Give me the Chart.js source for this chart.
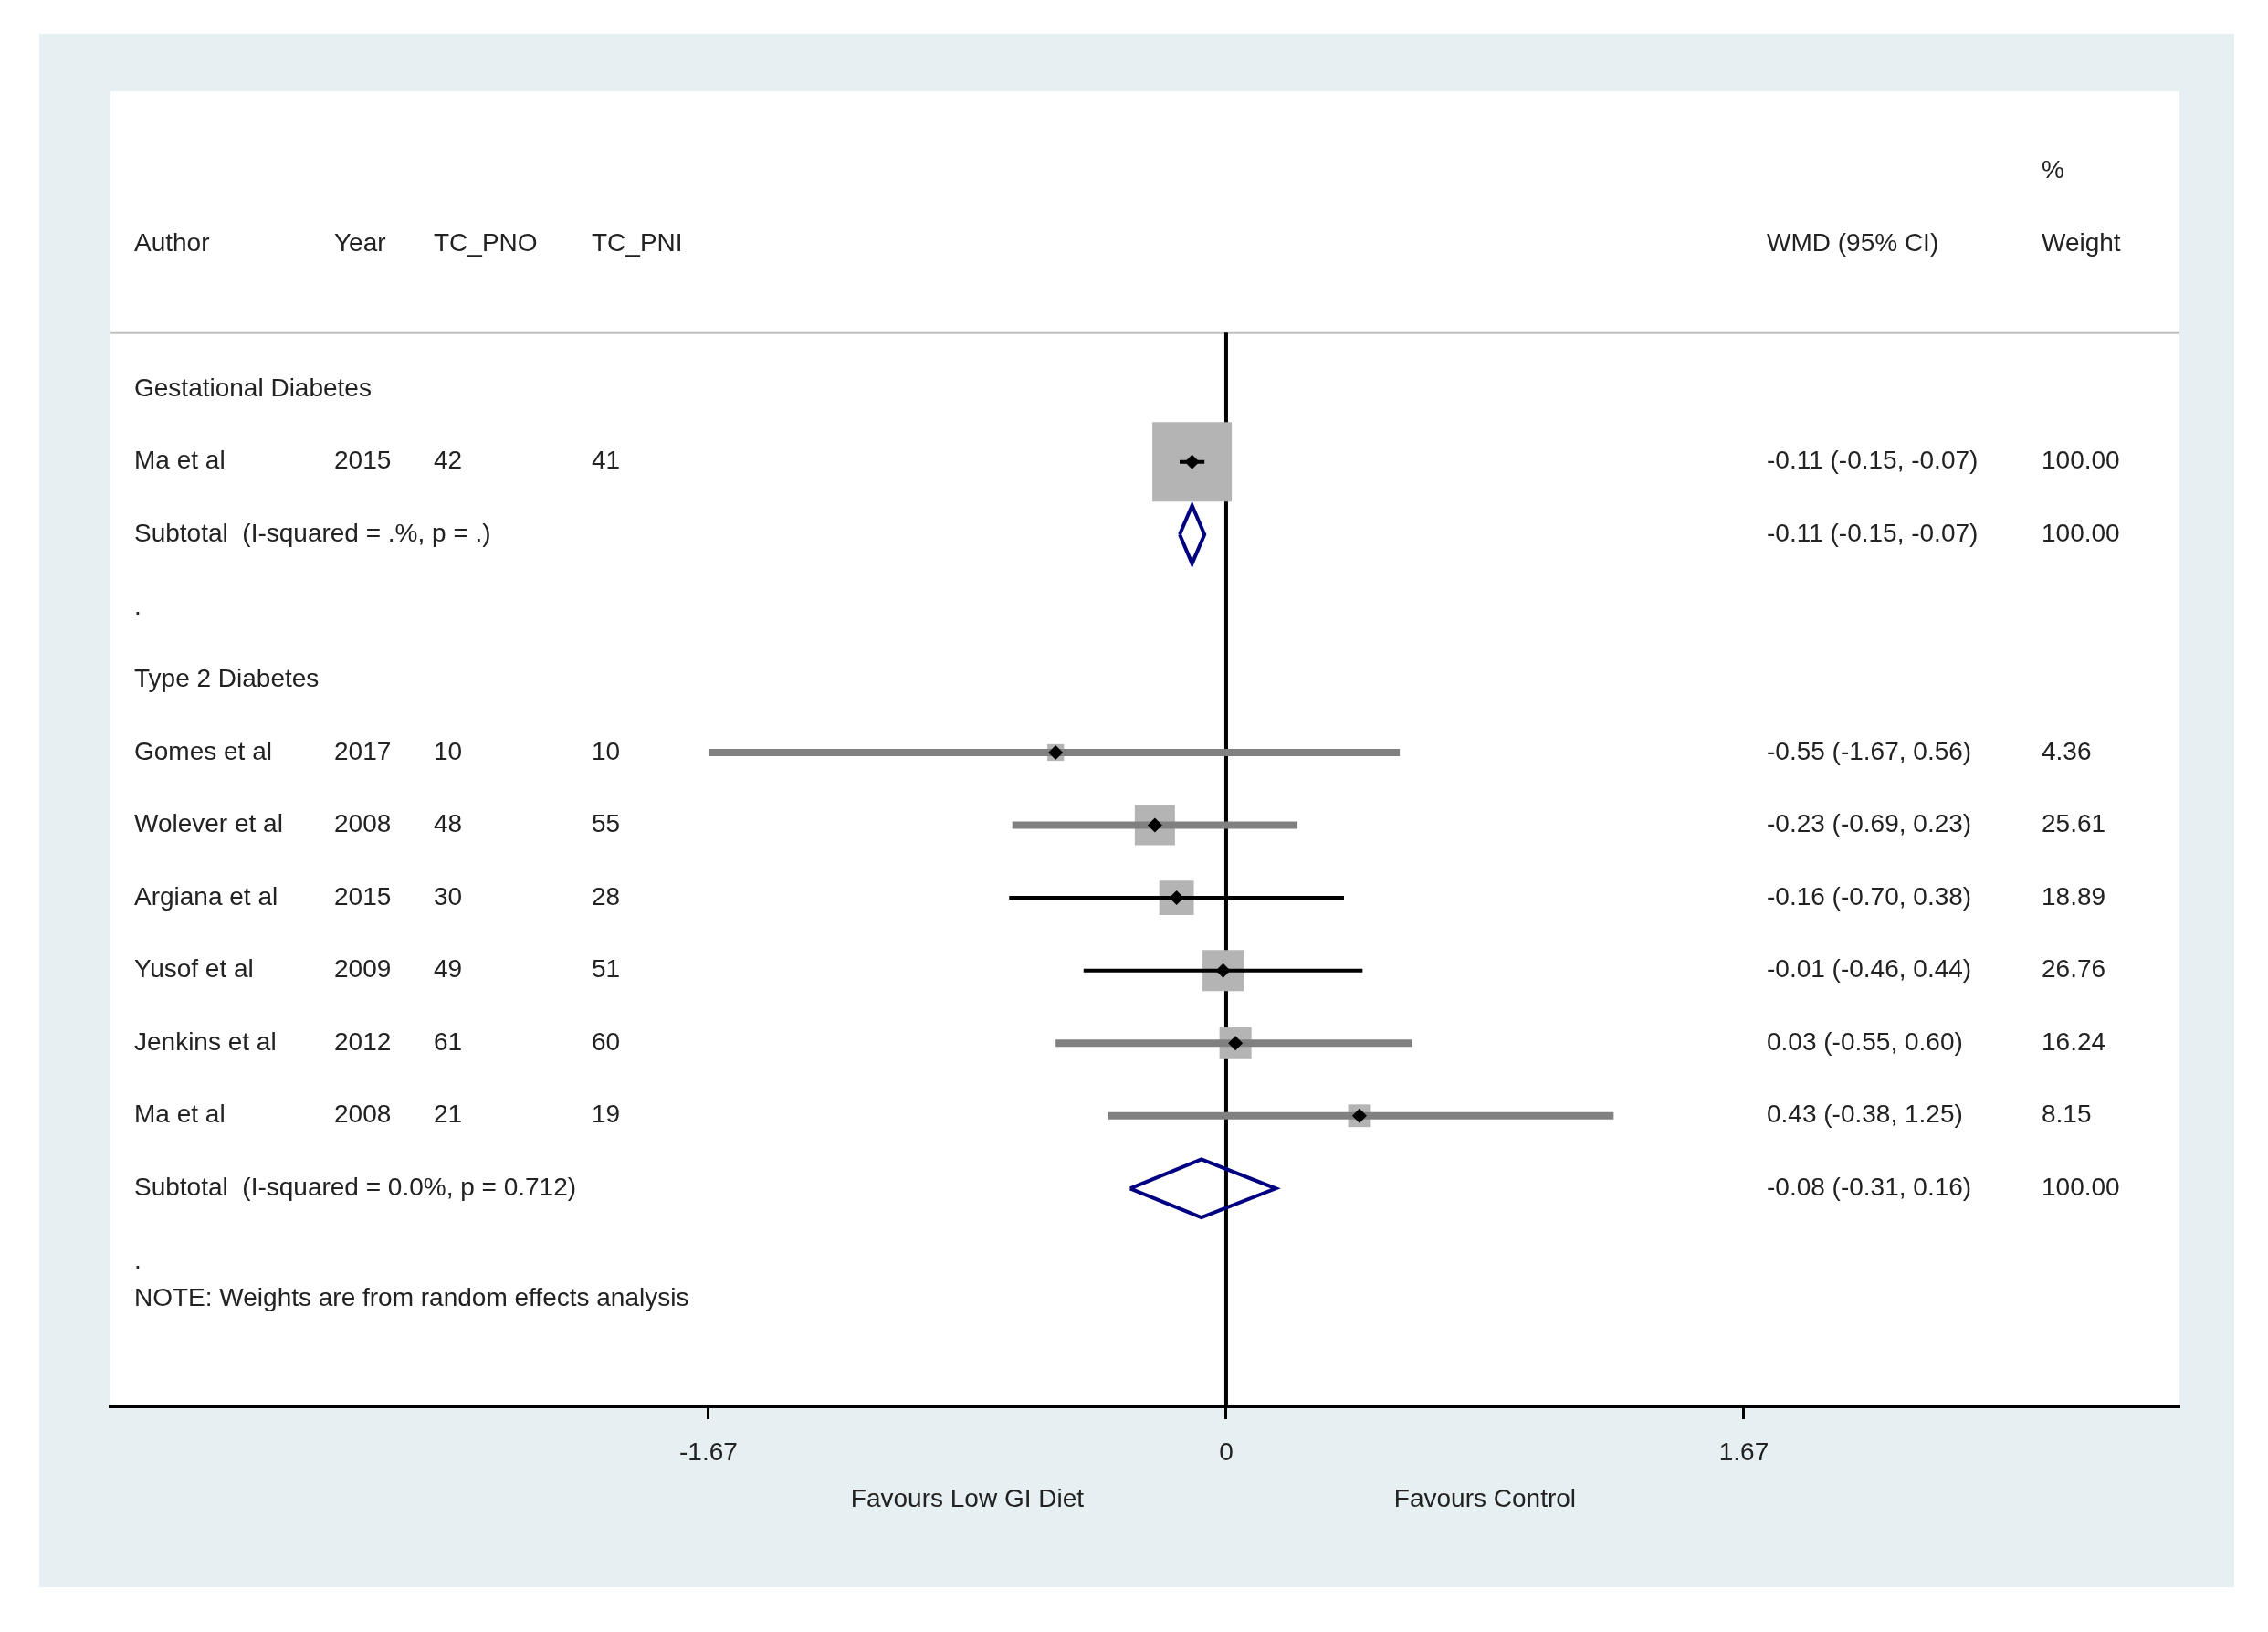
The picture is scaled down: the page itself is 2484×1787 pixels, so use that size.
<!DOCTYPE html>
<html>
<head>
<meta charset="utf-8">
<script src="https://cdn.jsdelivr.net/npm/chart.js@4"></script>
<style>
  html, body { margin: 0; padding: 0; background: #fff; }
  canvas { display: block; }
</style>
</head>
<body>
<canvas id="forest" width="2484" height="1787"></canvas>
<script>
// groups and studies
const groups = ['Gestational Diabetes', 'Type 2 Diabetes']
const studies = ['Ma et al', 'Gomes et al', 'Wolever et al', 'Argiana et al', 'Yusof et al', 'Jenkins et al', 'Ma et al']
const studyGroup = [0, 1, 1, 1, 1, 1, 1]
const years = [2015, 2017, 2008, 2015, 2009, 2012, 2008]
const nPNO = [42, 10, 48, 30, 49, 61, 21]
const nPNI = [41, 10, 55, 28, 51, 60, 19]
const es = [-0.11, -0.55, -0.23, -0.16, -0.01, 0.03, 0.43]
const lo = [-0.15, -1.67, -0.69, -0.70, -0.46, -0.55, -0.38]
const hi = [-0.07, 0.56, 0.23, 0.38, 0.44, 0.60, 1.25]
const weights = [100.00, 4.36, 25.61, 18.89, 26.76, 16.24, 8.15]

// subgroup pooled results
const subEs = [-0.11, -0.08]
const subLo = [-0.15, -0.31]
const subHi = [-0.07, 0.16]
const subHet = ['I-squared = .%, p = .', 'I-squared = 0.0%, p = 0.712']
const subWeight = [100.00, 100.00]

// axis
const tickVals = [-1.67, 0, 1.67]
const tickLabels = ['-1.67', '0', '1.67']
const sideLabels = ['Favours Low GI Diet', 'Favours Control']

const headers = ['Author', 'Year', 'TC_PNO', 'TC_PNI']
const note = 'NOTE: Weights are from random effects analysis'

// styling (kept apart from the data)
const ciColor = ['#000000', '#808080', '#808080', '#000000', '#000000', '#808080', '#808080']
const ciWidth = [4, 8, 8, 4, 4, 8, 8]
const FONT = '28px "Liberation Sans", Arial, sans-serif'
const TEXT = '#222222'
const X_MIN = -3.599
const X_MAX = 3.075
const SEP_ROW = 0.22
const AXIS_ROW = 15
const cols = { author: 147, year: 366, pno: 475, pni: 648, wmd: 1935, weight: 2236 }

// lay out the rows: group title, studies, subtotal, blank
const rows = []
let r = 1
groups.forEach((g, gi) => {
  rows.push({ row: r++, kind: 'group', label: g })
  studies.forEach((s, i) => {
    if (studyGroup[i] === gi) rows.push({ row: r++, kind: 'study', i })
  })
  rows.push({ row: r++, kind: 'sub', gi })
  rows.push({ row: r++, kind: 'dot' })
})
const studyRow = studies.map((s, i) => rows.find(x => x.kind === 'study' && x.i === i).row)
const subRow = groups.map((g, gi) => rows.find(x => x.kind === 'sub' && x.gi === gi).row)

const fmt = v => v.toFixed(2)
const wmdText = (e, l, h) => `${fmt(e)} (${fmt(l)}, ${fmt(h)})`

const datasets = []

// line at zero
datasets.push({
  data: [{ x: 0, y: SEP_ROW }, { x: 0, y: AXIS_ROW }],
  showLine: true, borderColor: '#000', borderWidth: 4, pointRadius: 0, order: 9
})
// header separator
datasets.push({
  data: [{ x: X_MIN, y: SEP_ROW }, { x: X_MAX, y: SEP_ROW }],
  showLine: true, borderColor: '#c0c0c0', borderWidth: 3, pointRadius: 0, order: 9
})
// weight boxes
datasets.push({
  data: es.map((v, i) => ({ x: v, y: studyRow[i] })),
  pointStyle: 'rect',
  pointRadius: weights.map(w => 87 * Math.sqrt(w / 100) / Math.SQRT2),
  backgroundColor: '#b4b4b4', borderWidth: 0, order: 8
})
// confidence intervals
es.forEach((v, i) => {
  datasets.push({
    data: [{ x: lo[i], y: studyRow[i] }, { x: hi[i], y: studyRow[i] }],
    showLine: true, borderColor: ciColor[i], borderWidth: ciWidth[i], pointRadius: 0, order: 7
  })
})
// point estimates
datasets.push({
  data: es.map((v, i) => ({ x: v, y: studyRow[i] })),
  pointStyle: 'rectRot', pointRadius: 8, backgroundColor: '#000', borderWidth: 0, order: 6
})
// pooled diamonds
subEs.forEach((v, gi) => {
  const y = subRow[gi]
  const h = 0.4
  datasets.push({
    data: [
      { x: subLo[gi], y }, { x: v, y: y - h }, { x: subHi[gi], y },
      { x: v, y: y + h }, { x: subLo[gi], y }
    ],
    showLine: true, borderColor: '#000080', borderWidth: 4, pointRadius: 0, fill: false, order: 5
  })
})

const backdrop = {
  id: 'backdrop',
  beforeDraw(chart) {
    const { ctx, chartArea: a } = chart
    ctx.save()
    ctx.fillStyle = '#ffffff'
    ctx.fillRect(0, 0, chart.width, chart.height)
    ctx.fillStyle = '#e6f0f2'
    ctx.fillRect(43, 37, 2447 - 43, 1738 - 37)
    ctx.fillStyle = '#ffffff'
    ctx.fillRect(a.left, a.top, a.right - a.left, a.bottom - a.top)
    ctx.restore()
  }
}

const texts = {
  id: 'texts',
  afterDraw(chart) {
    const { ctx } = chart
    const ys = chart.scales.y
    const xs = chart.scales.x
    const at = row => ys.getPixelForValue(row)
    ctx.save()
    ctx.font = FONT
    ctx.fillStyle = TEXT
    ctx.textBaseline = 'middle'
    ctx.textAlign = 'left'

    // headers
    ctx.fillText(headers[0], cols.author, at(-1))
    ctx.fillText(headers[1], cols.year, at(-1))
    ctx.fillText(headers[2], cols.pno, at(-1))
    ctx.fillText(headers[3], cols.pni, at(-1))
    ctx.fillText('WMD (95% CI)', cols.wmd, at(-1))
    ctx.fillText('%', cols.weight, at(-2))
    ctx.fillText('Weight', cols.weight, at(-1))

    rows.forEach(row => {
      const y = at(row.row)
      if (row.kind === 'group') {
        ctx.fillText(row.label, cols.author, y)
      } else if (row.kind === 'study') {
        const i = row.i
        ctx.fillText(studies[i], cols.author, y)
        ctx.fillText(String(years[i]), cols.year, y)
        ctx.fillText(String(nPNO[i]), cols.pno, y)
        ctx.fillText(String(nPNI[i]), cols.pni, y)
        ctx.fillText(wmdText(es[i], lo[i], hi[i]), cols.wmd, y)
        ctx.fillText(fmt(weights[i]), cols.weight, y)
      } else if (row.kind === 'sub') {
        const gi = row.gi
        ctx.fillText('Subtotal  (' + subHet[gi] + ')', cols.author, y)
        ctx.fillText(wmdText(subEs[gi], subLo[gi], subHi[gi]), cols.wmd, y)
        ctx.fillText(fmt(subWeight[gi]), cols.weight, y)
      } else {
        ctx.fillText('.', cols.author, y)
      }
    })
    ctx.fillText(note, cols.author, at(13.52))

    // side labels under the axis
    ctx.textAlign = 'center'
    ctx.fillText(sideLabels[0], xs.getPixelForValue(-tickVals[2] / 2), 1642)
    ctx.fillText(sideLabels[1], xs.getPixelForValue(tickVals[2] / 2), 1642)
    ctx.restore()
  }
}

new Chart(document.getElementById('forest'), {
  type: 'scatter',
  data: { datasets },
  plugins: [backdrop, texts],
  options: {
    responsive: false,
    animation: false,
    devicePixelRatio: 1,
    layout: { padding: { left: 121, right: 97, top: 100, bottom: 0 } },
    plugins: { legend: { display: false }, tooltip: { enabled: false } },
    scales: {
      x: {
        type: 'linear',
        min: X_MIN,
        max: X_MAX,
        afterBuildTicks: s => { s.ticks = tickVals.map(v => ({ value: v })) },
        afterFit: s => { s.height = 247 },
        ticks: {
          autoSkip: false,
          maxRotation: 0,
          padding: 20,
          color: TEXT,
          font: { family: '"Liberation Sans", Arial, sans-serif', size: 28 },
          callback: (v, i) => tickLabels[i]
        },
        grid: { drawOnChartArea: false, drawTicks: true, tickLength: 14, tickWidth: 3, tickColor: '#000' },
        border: { display: true, color: '#000', width: 4 }
      },
      y: { type: 'linear', reverse: true, min: -3.1, max: AXIS_ROW, display: false }
    }
  }
})
</script>
</body>
</html>
